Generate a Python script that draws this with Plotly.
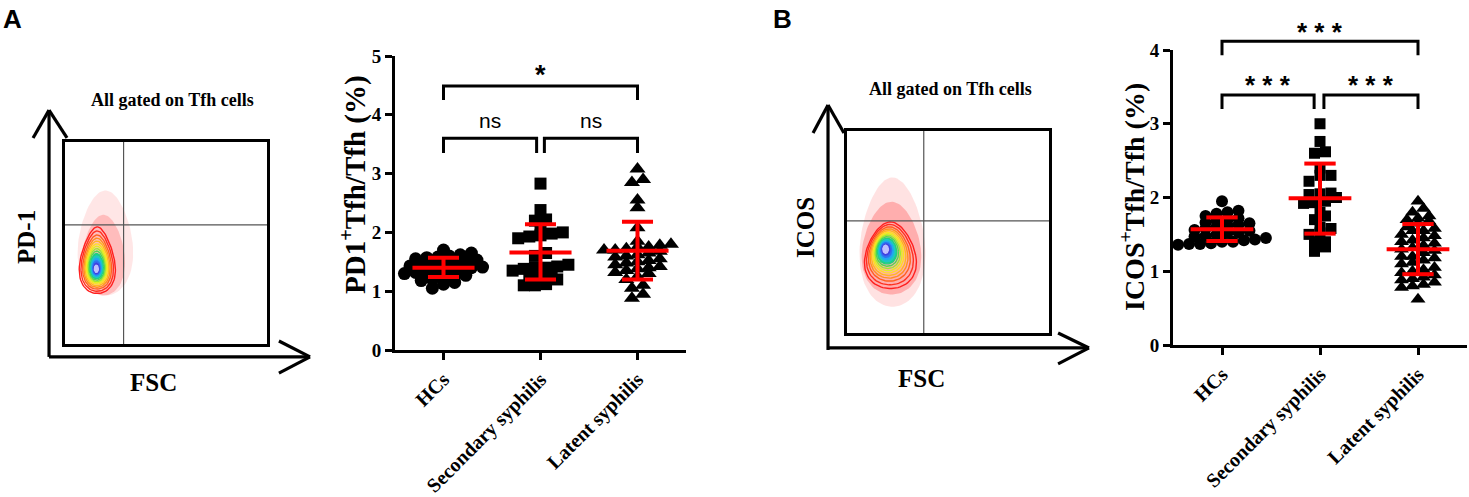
import numpy as np
import plotly.graph_objects as go

# ---------------- data ----------------
categories = ["HCs", "Secondary syphilis", "Latent syphilis"]

pd1_hcs = [1.05, 1.12, 1.15, 1.18, 1.2, 1.22, 1.25, 1.27, 1.3, 1.32, 1.33, 1.35, 1.37, 1.38, 1.4,
           1.41, 1.43, 1.45, 1.46, 1.48, 1.5, 1.52, 1.53, 1.55, 1.57, 1.58, 1.6, 1.62, 1.65, 1.7]
pd1_secondary = [2.83, 2.38, 2.22, 2.2, 2.05, 2.0, 1.98, 1.95, 1.93, 1.9, 1.65, 1.6, 1.45, 1.42, 1.4,
                 1.4, 1.38, 1.35, 1.3, 1.25, 1.22, 1.2, 1.12, 1.1, 1.1]
pd1_latent = [3.08, 2.9, 2.85, 2.55, 2.42, 2.08, 1.85, 1.8, 1.78, 1.75, 1.75, 1.72, 1.7, 1.7, 1.68,
              1.65, 1.62, 1.6, 1.58, 1.55, 1.52, 1.5, 1.48, 1.45, 1.42, 1.4, 1.38, 1.35, 1.32, 1.3,
              1.25, 1.2, 1.1, 1.05, 0.95, 0.88]
pd1_mean = [1.40, 1.66, 1.69]
pd1_sd_low = [1.24, 1.20, 1.20]
pd1_sd_high = [1.57, 2.14, 2.18]

icos_hcs = [1.95, 1.82, 1.8, 1.78, 1.75, 1.72, 1.7, 1.68, 1.66, 1.65, 1.63, 1.62, 1.6, 1.58, 1.56,
            1.55, 1.53, 1.52, 1.5, 1.48, 1.47, 1.45, 1.43, 1.42, 1.4, 1.4, 1.38, 1.37, 1.37, 1.36]
icos_secondary = [3.0, 2.76, 2.62, 2.6, 2.4, 2.3, 2.3, 2.22, 2.06, 2.05, 2.04, 2.0, 1.95, 1.93, 1.92,
                  1.8, 1.75, 1.7, 1.6, 1.58, 1.52, 1.5, 1.4, 1.4, 1.33, 1.27]
icos_latent = [1.95, 1.85, 1.8, 1.75, 1.72, 1.7, 1.68, 1.65, 1.6, 1.58, 1.55, 1.55, 1.5, 1.48, 1.45,
               1.42, 1.4, 1.38, 1.35, 1.32, 1.3, 1.28, 1.25, 1.2, 1.2, 1.18, 1.15, 1.12, 1.1, 1.05,
               1.02, 1.0, 0.98, 0.95, 0.92, 0.9, 0.88, 0.85, 0.82, 0.8, 0.78, 0.62]
icos_mean = [1.57, 1.99, 1.30]
icos_sd_low = [1.41, 1.51, 0.96]
icos_sd_high = [1.73, 2.46, 1.64]

pd1_yticks = [0, 1, 2, 3, 4, 5]
icos_yticks = [0, 1, 2, 3, 4]

# significance brackets: (x_left, x_right, y_top, y_leg, label, label_y)
pd1_brackets = [(0, 0.96, 3.60, 3.35, "ns", 3.91),
                (1.04, 2, 3.60, 3.35, "ns", 3.91),
                (0, 2, 4.49, 4.25, "*", 4.68)]
icos_brackets = [(0, 0.94, 3.39, 3.20, "* * *", 3.53),
                 (1.04, 2, 3.39, 3.20, "* * *", 3.53),
                 (0, 2, 4.12, 3.93, "* * *", 4.25)]

# flow panels (axis units 0..1 inside the gate box)
flowA_gate = (0.29, 0.59)
flowB_gate = (0.38, 0.555)
flowA_cloud = [(0.20, 0.50, 0.135, 0.26, "rgba(255,140,140,0.22)"),
               (0.19, 0.44, 0.105, 0.2, "rgba(255,110,110,0.35)")]
flowB_cloud = [(0.225, 0.45, 0.16, 0.32, "rgba(255,140,140,0.25)"),
               (0.22, 0.42, 0.145, 0.23, "rgba(255,110,110,0.45)")]
# teardrop contours: (cx, cy, rx, ry, taper)
flowA_outer = (0.16, 0.415, 0.085, 0.165, 0.35)
flowA_inner = (0.155, 0.37, 0.006, 0.01, 0.0)
flowB_outer = (0.215, 0.385, 0.125, 0.165, 0.25)
flowB_inner = (0.19, 0.416, 0.008, 0.012, 0.0)
level_frac = [1.0, 0.9, 0.8, 0.72, 0.65, 0.58, 0.52, 0.46, 0.4, 0.34, 0.28, 0.22, 0.16, 0.1, 0.05]
level_colors = ['#ff2020', '#ff3020', '#ff6020', '#ff9020', '#ffb820', '#ffe020', '#e0f020',
                '#a0e830', '#50d850', '#20d080', '#20c8c0', '#20a8f0', '#3070f0', '#4040e0', '#c0c0ff']
n_filled = 6

# ---------------- helpers ----------------
SERIF = "Liberation Serif"
SANS = "Liberation Sans"
W, H = 1469, 497


def swarm(values, center, row_h, col_w):
    idx = sorted(range(len(values)), key=lambda i: values[i])
    xs = [0.0] * len(values)
    rows, cur, start = [], [], None
    for i in idx:
        v = values[i]
        if start is None or v - start > row_h:
            if cur:
                rows.append(cur)
            cur, start = [i], v
        else:
            cur.append(i)
    if cur:
        rows.append(cur)
    for r in rows:
        n = len(r)
        for k, i in enumerate(r):
            xs[i] = center + (k - (n - 1) / 2) * col_w
    return xs


def teardrop(cx, cy, rx, ry, taper=0.0):
    t = np.linspace(0, 2 * np.pi, 91)
    return cx + rx * np.cos(t) * (1 - taper * np.sin(t)), cy + ry * np.sin(t)


fig = go.Figure()


def bold_serif(s):
    return dict(family=SERIF, size=s, color="black", weight="bold")


def note(**kw):
    kw.setdefault("showarrow", False)
    kw.setdefault("xanchor", "center")
    kw.setdefault("yanchor", "middle")
    fig.add_annotation(**kw)


# ---------------- scatter panels ----------------
def add_dotplot(groups, means, lows, highs, xa, ya, row_h, col_w, sizes):
    symbols = ["circle", "square", "triangle-up"]
    for g, vals in enumerate(groups):
        fig.add_trace(go.Scatter(
            x=swarm(vals, g, row_h, col_w), y=vals, mode="markers",
            marker=dict(symbol=symbols[g], size=sizes[g], color="black", line=dict(width=0)),
            xaxis=xa, yaxis=ya, showlegend=False, hoverinfo="y", cliponaxis=False))
    red = dict(color="#ff0000", width=4)
    for g in range(3):
        fig.add_trace(go.Scatter(x=[g - 0.32, g + 0.32], y=[means[g], means[g]], mode="lines",
                                 line=red, xaxis=xa, yaxis=ya, showlegend=False, hoverinfo="skip"))
        fig.add_trace(go.Scatter(x=[g, g], y=[lows[g], highs[g]], mode="lines",
                                 line=red, xaxis=xa, yaxis=ya, showlegend=False, hoverinfo="skip"))
        for yv in (lows[g], highs[g]):
            fig.add_trace(go.Scatter(x=[g - 0.16, g + 0.16], y=[yv, yv], mode="lines",
                                     line=red, xaxis=xa, yaxis=ya, showlegend=False, hoverinfo="skip"))


def add_brackets(brackets, xa, ya, star_size):
    for (x0, x1, yt, yl, lab, ly) in brackets:
        fig.add_trace(go.Scatter(x=[x0, x0, x1, x1], y=[yl, yt, yt, yl], mode="lines",
                                 line=dict(color="black", width=3), xaxis=xa, yaxis=ya,
                                 showlegend=False, hoverinfo="skip"))
        if lab == "ns":
            font = dict(family=SANS, size=21, color="black")
        else:
            font = dict(family=SANS, size=star_size, color="black", weight="bold")
        note(x=(x0 + x1) / 2, y=ly, xref=xa, yref=ya, text=lab, font=font)


add_dotplot([pd1_hcs, pd1_secondary, pd1_latent], pd1_mean, pd1_sd_low, pd1_sd_high,
            "x", "y", 0.11, 0.115, [13, 12, 14])
add_brackets(pd1_brackets, "x", "y", 27)
add_dotplot([icos_hcs, icos_secondary, icos_latent], icos_mean, icos_sd_low, icos_sd_high,
            "x2", "y2", 0.09, 0.112, [12, 11, 13])
add_brackets(icos_brackets, "x5", "y5", 26)


# ---------------- flow panels ----------------
def add_flow(xa, ya, gate, clouds, outer, inner):
    for (cx, cy, rx, ry, col) in clouds:
        ex, ey = teardrop(cx, cy, rx, ry, 0.2)
        fig.add_trace(go.Scatter(x=ex, y=ey, mode="lines", fill="toself", fillcolor=col,
                                 line=dict(width=0), xaxis=xa, yaxis=ya, showlegend=False,
                                 hoverinfo="skip"))
    nl = len(level_frac)
    for k, f in enumerate(level_frac):
        p = [inner[j] + (outer[j] - inner[j]) * f for j in range(5)]
        ex, ey = teardrop(*p)
        kw = {}
        if k >= nl - n_filled:
            kw = dict(fill="toself", fillcolor=level_colors[k])
        fig.add_trace(go.Scatter(x=ex, y=ey, mode="lines", line=dict(color=level_colors[k], width=1.4),
                                 xaxis=xa, yaxis=ya, showlegend=False, hoverinfo="skip", **kw))
    fig.add_trace(go.Scatter(x=[gate[0], gate[0]], y=[0, 1], mode="lines",
                             line=dict(color="#555555", width=1.2), xaxis=xa, yaxis=ya,
                             showlegend=False, hoverinfo="skip"))
    fig.add_trace(go.Scatter(x=[0, 1], y=[gate[1], gate[1]], mode="lines",
                             line=dict(color="#555555", width=1.2), xaxis=xa, yaxis=ya,
                             showlegend=False, hoverinfo="skip"))


add_flow("x3", "y3", flowA_gate, flowA_cloud, flowA_outer, flowA_inner)
add_flow("x4", "y4", flowB_gate, flowB_cloud, flowB_outer, flowB_inner)

# arrows around the flow boxes (domain coordinates of the box)
arrowA = dict(vx=-0.079, vb=-0.064, vt=1.158, hy=-0.064, hr=1.213,
              vh=((-0.158, 1.02), (0.01, 1.02)), hh=((1.059, 0.015), (1.059, -0.144)))
arrowB = dict(vx=-0.094, vb=-0.084, vt=1.129, hy=-0.074, hr=1.198,
              vh=((-0.168, 0.99), (-0.015, 0.99)), hh=((1.045, 0.0), (1.045, -0.153)))


def add_arrows(xa, ya, a):
    xr, yr = xa + " domain", ya + " domain"
    ln = dict(color="black", width=3.2)
    fig.add_shape(type="line", xref=xr, yref=yr, x0=a['vx'], y0=a['vb'], x1=a['vx'], y1=a['vt'], line=ln)
    fig.add_shape(type="line", xref=xr, yref=yr, x0=a['vx'], y0=a['hy'], x1=a['hr'], y1=a['hy'], line=ln)
    for (px_, py_) in a['vh']:
        fig.add_shape(type="line", xref=xr, yref=yr, x0=px_, y0=py_, x1=a['vx'], y1=a['vt'], line=ln)
    for (px_, py_) in a['hh']:
        fig.add_shape(type="line", xref=xr, yref=yr, x0=px_, y0=py_, x1=a['hr'], y1=a['hy'], line=ln)


add_arrows("x3", "y3", arrowA)
add_arrows("x4", "y4", arrowB)

for xa, ya, ylab, tpos, ypos, fpos in [("x3", "y3", "PD-1", (0.53, 1.208), (-0.188, 0.53), (0.44, -0.193)),
                                      ("x4", "y4", "ICOS", (0.51, 1.208), (-0.203, 0.525), (0.371, -0.223))]:
    note(x=tpos[0], y=tpos[1], xref=xa + " domain", yref=ya + " domain",
         text="All gated on Tfh cells", font=bold_serif(18))
    note(x=ypos[0], y=ypos[1], xref=xa + " domain", yref=ya + " domain",
         text=ylab, font=bold_serif(25), textangle=-90)
    note(x=fpos[0], y=fpos[1], xref=xa + " domain", yref=ya + " domain",
         text="FSC", font=bold_serif(25))

# panel letters & y titles
note(x=1 / W, y=1 - 2 / H, xref="paper", yref="paper", text="A", xanchor="left", yanchor="top",
     font=dict(family=SANS, size=26, color="black", weight="bold"))
note(x=771 / W, y=1 - 2 / H, xref="paper", yref="paper", text="B", xanchor="left", yanchor="top",
     font=dict(family=SANS, size=26, color="black", weight="bold"))
note(x=353 / W, y=1 - 185 / H, xref="paper", yref="paper",
     text="PD1<sup>+</sup>Tfh/Tfh (%)", textangle=-90, font=bold_serif(29))
note(x=1132 / W, y=1 - 197 / H, xref="paper", yref="paper",
     text="ICOS<sup>+</sup>Tfh/Tfh (%)", textangle=-90, font=bold_serif(28))

# ---------------- axes ----------------
xcat = dict(range=[-0.5, 2.5], tickvals=[0, 1, 2], ticktext=categories, tickangle=-45,
            ticks="outside", ticklen=7, tickwidth=3, tickcolor="black", showline=True,
            linewidth=3, linecolor="black", showgrid=False, zeroline=False,
            tickfont=bold_serif(20), automargin=False)
ycom = dict(ticks="outside", ticklen=7, tickwidth=3, tickcolor="black", showline=True,
            linewidth=3, linecolor="black", showgrid=False, zeroline=False,
            tickfont=bold_serif(19), automargin=False)
flowax = dict(range=[0, 1], showline=True, mirror=True, linewidth=3, linecolor="black",
              showticklabels=False, ticks="", showgrid=False, zeroline=False, automargin=False)
hidden = dict(visible=False, showgrid=False, zeroline=False, automargin=False)

fig.update_layout(
    template="none",
    width=W, height=H, margin=dict(l=0, r=0, t=0, b=0, pad=0, autoexpand=False),
    paper_bgcolor="white", plot_bgcolor="rgba(0,0,0,0)", showlegend=False,
    font=dict(family=SERIF, color="black"),
    xaxis=dict(domain=[395 / W, 686 / W], anchor="y", **xcat),
    yaxis=dict(domain=[1 - 350 / H, 1 - 56 / H], anchor="x", range=[0, 5], tickvals=pd1_yticks, **ycom),
    xaxis2=dict(domain=[1173 / W, 1467 / W], anchor="y2", **xcat),
    yaxis2=dict(domain=[1 - 345 / H, 1 - 50 / H], anchor="x2", range=[0, 4], tickvals=icos_yticks, **ycom),
    xaxis3=dict(domain=[65 / W, 267 / W], anchor="y3", **flowax),
    yaxis3=dict(domain=[1 - 344 / H, 1 - 142 / H], anchor="x3", **flowax),
    xaxis4=dict(domain=[847 / W, 1049 / W], anchor="y4", **flowax),
    yaxis4=dict(domain=[1 - 333 / H, 1 - 131 / H], anchor="x4", **flowax),
    xaxis5=dict(domain=[1173 / W, 1467 / W], anchor="y5", range=[-0.5, 2.5], **hidden),
    yaxis5=dict(domain=[1 - 345 / H, 1 - (345 - 4.5 * (295 / 4)) / H], anchor="x5", range=[0, 4.5], **hidden),
)

fig.write_html("out.html", config={"displayModeBar": False},
               post_script="document.body.style.margin='0';document.body.style.overflow='hidden';")
